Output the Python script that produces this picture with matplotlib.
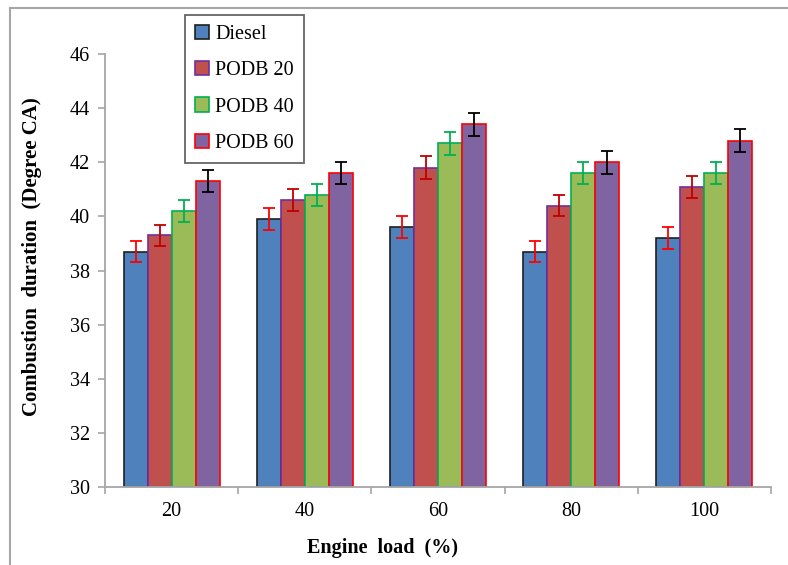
import numpy as np
import matplotlib.pyplot as plt
from matplotlib.lines import Line2D
from matplotlib.patches import Patch

# engine load categories and combustion duration per fuel
loads = ['20', '40', '60', '80', '100']
diesel = [38.7, 39.9, 39.6, 38.7, 39.2]
podb20 = [39.3, 40.6, 41.8, 40.4, 41.1]
podb40 = [40.2, 40.8, 42.7, 41.6, 41.6]
podb60 = [41.3, 41.6, 43.4, 42.0, 42.8]

# error bar half-heights
err_diesel = [0.39, 0.40, 0.40, 0.39, 0.39]
err_podb20 = [0.39, 0.41, 0.42, 0.40, 0.41]
err_podb40 = [0.40, 0.41, 0.43, 0.42, 0.42]
err_podb60 = [0.41, 0.42, 0.43, 0.42, 0.43]

names = ['Diesel', 'PODB 20', 'PODB 40', 'PODB 60']
faces = ['#4f81bd', '#c0504d', '#9bbb59', '#8064a2']
edges = ['#1f1f1f', '#7030a0', '#00b050', '#ff0000']
ecols = ['#ff0000', '#c00000', '#00b050', '#000000']

plt.rcParams['font.family'] = ['Liberation Serif', 'DejaVu Serif']

fig = plt.figure(figsize=(7.88, 5.65), dpi=100)
ax = fig.add_axes([105/788, 1-487/565, (771-105)/788, (487-54)/565])

# frame around the figure (left and top only)
fig.add_artist(Line2D([10/788, 10/788], [0, 1-8/565], transform=fig.transFigure, color='#a6a6a6', lw=1.5))
fig.add_artist(Line2D([10/788, 1], [1-8/565, 1-8/565], transform=fig.transFigure, color='#a6a6a6', lw=1.5))

x = np.arange(len(loads))
w = 0.18
series = [diesel, podb20, podb40, podb60]
errs = [err_diesel, err_podb20, err_podb40, err_podb60]
for i, (vals, e) in enumerate(zip(series, errs)):
    pos = x + (i - 1.5) * w
    ax.bar(pos, np.array(vals) - 30, w, bottom=30, color=faces[i], edgecolor=edges[i], linewidth=1.2, zorder=2)
    ax.errorbar(pos, vals, yerr=e, fmt='none', ecolor=ecols[i], elinewidth=1.3, capsize=4, capthick=1.3, zorder=3)

ax.set_xlim(-0.5, len(loads) - 0.5)
ax.set_ylim(30, 46)
ax.set_yticks(np.arange(30, 47, 2))
ax.set_xticks(x)
ax.set_xticklabels(loads)
ax.set_xticks(np.arange(-0.5, len(loads)), minor=True)
ax.tick_params(axis='x', which='major', length=0, pad=11, labelsize=14.5)
ax.tick_params(axis='x', which='minor', length=5, color='#a6a6a6', width=1.2)
ax.tick_params(axis='y', length=5, color='#a6a6a6', width=1.2, labelsize=14.5, pad=6)

for s in ['top', 'right']:
    ax.spines[s].set_visible(False)
for s in ['left', 'bottom']:
    ax.spines[s].set_color('#a6a6a6')
    ax.spines[s].set_linewidth(1.3)

ax.set_ylabel('Combustion  duration  (Degree CA)', fontsize=15, fontweight='bold')
ax.set_xlabel('Engine  load  (%)', fontsize=14.5, fontweight='bold')
ax.yaxis.set_label_coords(-0.095, 0.533)
ax.xaxis.set_label_coords(0.416, -0.118)

handles = [Patch(facecolor=faces[i], edgecolor=edges[i], linewidth=1.2) for i in range(4)]
leg = fig.legend(handles, names, loc='upper left', bbox_to_anchor=(185/788, 1-15/565),
                 borderaxespad=0, fontsize=14.5, handlelength=0.7, handleheight=0.7, handletextpad=0.3,
                 labelspacing=0.85, borderpad=0.5, frameon=True, fancybox=False)
leg.get_frame().set_edgecolor('#404040')
leg.get_frame().set_linewidth(1.3)

fig.savefig('out.png', dpi=100)
